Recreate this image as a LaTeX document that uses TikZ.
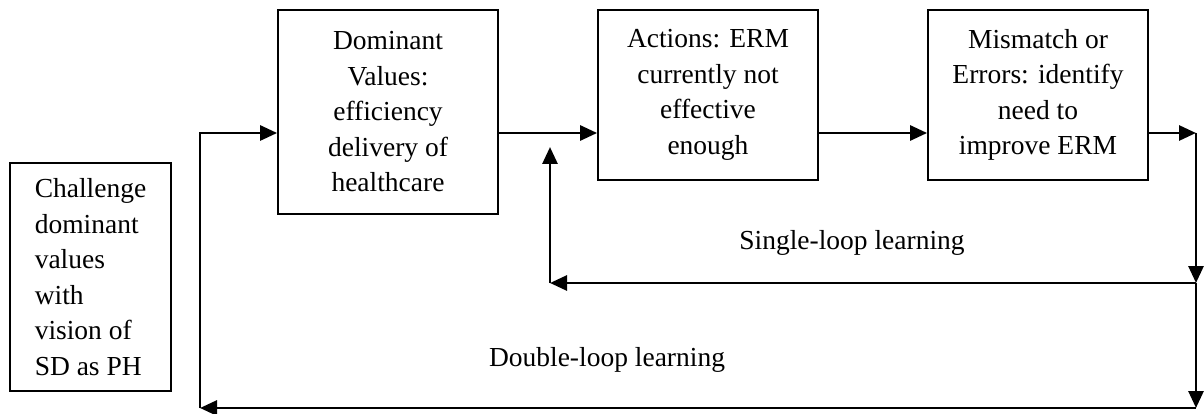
\documentclass[tikz,border=0pt]{standalone}
\usepackage{fontspec}
\setmainfont{Liberation Serif}
\usepackage{tikz}
\usetikzlibrary{arrows.meta,positioning}

\begin{document}
\begin{tikzpicture}[x=1pt,y=-1pt,
    box/.style={draw, line width=1.8pt, align=center, inner sep=0pt,
        font=\fontsize{27.5}{35.5}\selectfont},
    flow/.style={line width=2.8pt, -{Triangle[length=17pt,width=15pt]}},
    lbl/.style={font=\fontsize{27.5}{35.5}\selectfont}]
    \useasboundingbox (0,0) rectangle (1204,414);

    % Boxes
    \node[box, align=left, minimum width=161pt, minimum height=228pt] (chal) at (90.5,277)
        {Challenge\\dominant\\values\\with\\vision of\\SD as PH};
    \node[box, minimum width=220pt, minimum height=204pt] (dom) at (388,112)
        {Dominant\\Values:\\efficiency\\delivery of\\healthcare};
    \node[box, minimum width=220pt, minimum height=170pt] (act) at (708,95)
        {Actions: ERM\\currently not\\effective\\enough};
    \node[box, minimum width=220pt, minimum height=170pt] (mis) at (1038,95)
        {Mismatch or\\Errors: identify\\need to\\improve ERM};

    % Turning points
    \coordinate (yline) at (0,133);
    \coordinate (rtop) at (1196,133);
    \coordinate (rmid) at (1196,283);
    \coordinate (rbot) at (1196,408);
    \coordinate (sl) at (550,283);
    \coordinate (sltop) at (550,147);
    \coordinate (dl) at (200,408);

    % Main flow
    \draw[flow] (dom.east |- yline) -- (act.west |- yline);
    \draw[flow] (act.east |- yline) -- (mis.west |- yline);
    \draw[flow] (mis.east |- yline) -- (rtop);
    \draw[flow] (rtop) -- (rmid);
    \draw[flow] (rmid) -- (rbot);

    % Single loop
    \draw[flow] (rmid) -- (sl);
    \draw[flow] (sl) -- (sltop);

    % Double loop
    \draw[flow] (rbot) -- (dl);
    \draw[flow] (dl) |- (dom.west |- yline);

    % Labels
    \node[lbl] (single) at (852,243) {Single-loop learning};
    \node[lbl] (double) at (607,360) {Double-loop learning};
\end{tikzpicture}
\end{document}
